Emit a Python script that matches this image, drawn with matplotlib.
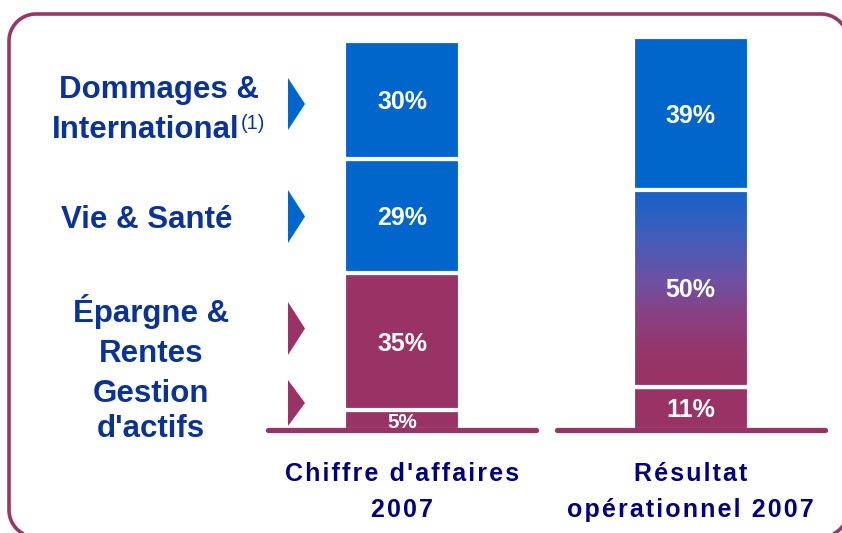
import numpy as np
import matplotlib
matplotlib.use('Agg')
import matplotlib.pyplot as plt
from matplotlib.colors import LinearSegmentedColormap
from matplotlib.patches import Polygon
from matplotlib.transforms import Affine2D, blended_transform_factory

plt.rcParams['font.family'] = ['Liberation Sans', 'DejaVu Sans']

# --- data ---------------------------------------------------------------
columns = [["Chiffre d'affaires", "2007"], ["Résultat", "opérationnel 2007"]]
business_lines = [["Dommages &", "International"], ["Vie & Santé"],
                  ["Épargne &", "Rentes"], ["Gestion", "d'actifs"]]
line_kind = ['blue', 'blue', 'plum', 'plum']
revenue_share = [30, 29, 35, 5]      # chiffre d'affaires, top to bottom
result_share = [39, 50, 11]          # Dommages / Vie + Épargne / Gestion
result_kind = ['blue', 'mix', 'plum']

# --- style --------------------------------------------------------------
COLORS = {'blue': '#0066cc', 'plum': '#993366'}
NAVY = '#0a3399'
DARK = '#000080'
W, H, DPI = 842, 533, 100
PX_PER_PCT = 3.93
BASE_PX = 430
COL_PX = [402, 690.5]
UNIT = COL_PX[1] - COL_PX[0]
BAR_W = 116 / UNIT

mix_cmap = LinearSegmentedColormap.from_list(
    'mix', [(0, '#993366'), (0.15, '#973567'), (0.35, '#8b3f80'),
            (0.55, '#6c52a4'), (0.78, '#3e5ebd'), (1, '#1462ca')])

fig = plt.figure(figsize=(W / DPI, H / DPI), dpi=DPI)
ax = fig.add_axes([0, 0, 1, 1])
ax.axis('off')

# pixel coordinates measured from the top-left corner
PIX = Affine2D().scale(1, -1).translate(0, H)


def centered_label(x, y, s, size, color, **kw):
    # put the middle of the capitals on y
    ax.annotate(s, xy=(x, y), xytext=(0, -0.716 * size / 2), textcoords='offset points',
                ha='center', va='baseline', fontsize=size, fontweight='bold',
                color=color, **kw)


def draw_stack(x, shares, kinds):
    bottom = 0
    for share, kind in zip(shares[::-1], kinds[::-1]):
        face = COLORS.get(kind, 'none')
        bar = ax.bar(x, share, bottom=bottom, width=BAR_W, color=face,
                     edgecolor='white', linewidth=3, zorder=2)[0]
        if kind == 'mix':
            img = ax.imshow(np.linspace(0, 1, 256).reshape(-1, 1), cmap=mix_cmap,
                            origin='lower', aspect='auto', zorder=2.1,
                            extent=(x - BAR_W / 2, x + BAR_W / 2, bottom, bottom + share))
            img.set_clip_path(bar)
            ax.bar(x, share, bottom=bottom, width=BAR_W, fill=False,
                   edgecolor='white', linewidth=3, zorder=2.2)
        # shrink the figure only when the slice is too thin for it
        size = min(18, share * PX_PER_PCT * 0.75 / 0.716 * 72 / DPI)
        centered_label(x, bottom + share / 2, f'{share}%', size, 'white', zorder=5)
        bottom += share
    ax.plot([x - 134 / UNIT, x + 134 / UNIT], [0, 0], color=COLORS['plum'],
            lw=3.8, solid_capstyle='round', zorder=3)


draw_stack(0, revenue_share, line_kind)
draw_stack(1, result_share, result_kind)

ax.set_xlim(-COL_PX[0] / UNIT, (W - COL_PX[0]) / UNIT)
ax.set_ylim(-(H - BASE_PX) / PX_PER_PCT, BASE_PX / PX_PER_PCT)

# left-hand labels with their arrows
label_pos = [(159, 98, 40), (147, 228, 0), (151, 322, 40), (151, 402, 35)]
arrow_pos = [(104, 26), (216.5, 26.5), (328.5, 26.5), (403, 23)]
for lines, kind, (lx, ly, step), (ay, ah) in zip(business_lines, line_kind, label_pos, arrow_pos):
    for i, s in enumerate(lines):
        t = ax.text(lx, ly + i * step, s, transform=PIX, ha='center', va='baseline',
                    fontsize=22.5, fontweight='bold', color=NAVY)
        if s == 'International':
            t.set_x(lx - 13)
            ax.annotate('(1)', xy=(1, 0.4), xycoords=t, xytext=(1, 0),
                        textcoords='offset points', ha='left', va='bottom',
                        fontsize=14.5, color=NAVY)
    ax.add_patch(Polygon([(288, ay - ah), (288, ay + ah), (305, ay)], closed=True,
                         facecolor=COLORS[kind], edgecolor='none', transform=PIX))

# column titles, slightly letter-spaced
col_tf = blended_transform_factory(ax.transData, PIX)
for i, lines in enumerate(columns):
    for j, s in enumerate(lines):
        ax.text(i, 481 + 36 * j, '\u200a'.join(s), transform=col_tf, ha='center',
                va='baseline', fontsize=18, fontweight='bold', color=DARK)

# rounded frame, slightly larger than the canvas on the right and bottom
left, top, right, bottom, r = 9, 14, 848, 537, 27
t = np.linspace(0, np.pi / 2, 24)
c, s = r * np.cos(t), r * np.sin(t)
frame = np.vstack([
    np.column_stack([left + r - c, top + r - s]),          # top-left
    np.column_stack([right - r + s, top + r - c]),         # top-right
    np.column_stack([right - r + c, bottom - r + s]),      # bottom-right
    np.column_stack([left + r - s, bottom - r + c]),       # bottom-left
])
ax.add_patch(Polygon(frame, closed=True, fill=False, edgecolor='#9c3566',
                     linewidth=2.6, transform=PIX, clip_on=False, zorder=1))

fig.savefig('out.png', dpi=DPI)
